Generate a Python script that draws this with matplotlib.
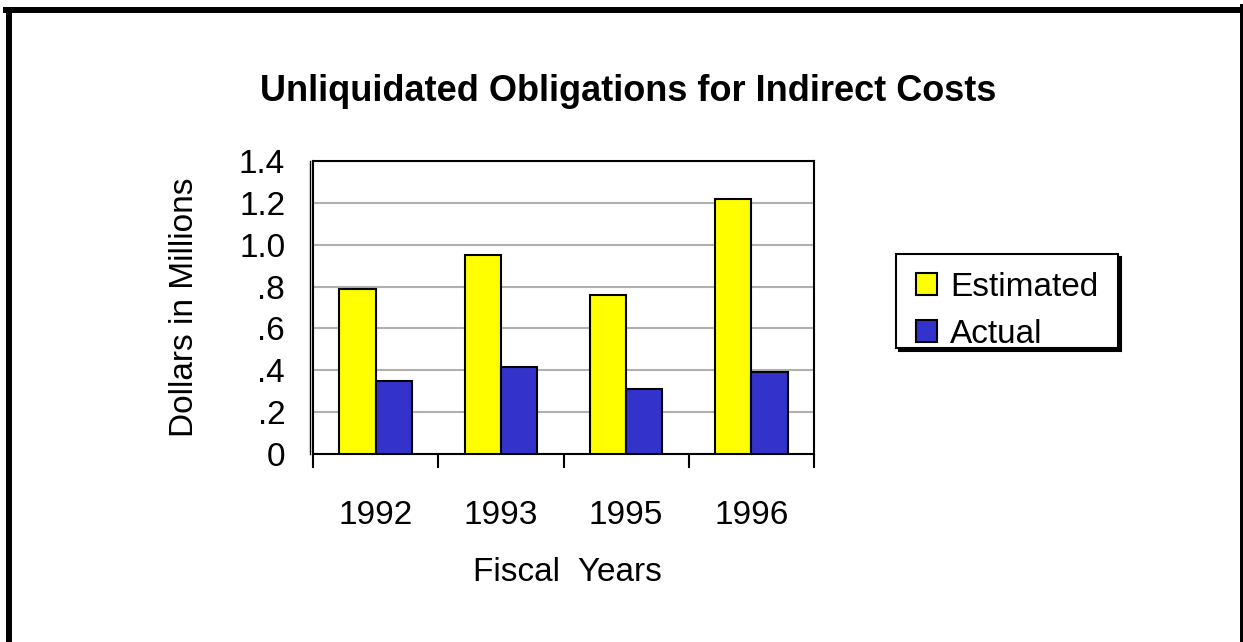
import matplotlib
matplotlib.use("Agg")
import numpy as np
import matplotlib.pyplot as plt
from matplotlib.lines import Line2D
from matplotlib.patches import Rectangle
from matplotlib.transforms import offset_copy

years = ["1992", "1993", "1995", "1996"]
estimated = [0.79, 0.95, 0.76, 1.22]
actual = [0.35, 0.415, 0.31, 0.39]
ytick_vals = [0, 0.2, 0.4, 0.6, 0.8, 1.0, 1.2, 1.4]
ytick_labels = ["0", ".2", ".4", ".6", ".8", "1.0", "1.2", "1.4"]

plt.rcParams['font.family'] = ['Liberation Sans', 'DejaVu Sans']

W, H = 1243, 642
fig = plt.figure(figsize=(W / 100, H / 100), dpi=100)
ax = fig.add_axes([0.2518, 0.2928, 0.4031, 0.4564])

x = np.arange(len(years))
w = 0.29
ax.bar(x - w / 2, estimated, w, color='#FFFF00', edgecolor='black',
       linewidth=1.5, label='Estimated', zorder=3)
ax.bar(x + w / 2, actual, w, color='#3333CC', edgecolor='black',
       linewidth=1.5, label='Actual', zorder=3)

ax.set_xlim(-0.5, len(years) - 0.5)
ax.set_ylim(0, 1.4)
ax.set_yticks(ytick_vals)
ax.set_yticklabels(ytick_labels, fontsize=24)
ax.tick_params(axis='y', length=0, pad=20)
ax.yaxis.grid(True, color='#b0b0b0', linewidth=1.5, zorder=0)
ax.set_axisbelow(True)

# boundary ticks, labels at centres
ax.set_xticks(np.arange(-0.5, len(years)))
ax.set_xticklabels([])
ax.tick_params(axis='x', which='major', direction='out', length=10, width=1.5)
ax.set_xticks(x, minor=True)
ax.set_xticklabels(years, minor=True, fontsize=24)
ax.tick_params(axis='x', which='minor', length=0, pad=33)

for s in ax.spines.values():
    s.set_linewidth(1.5)

# double line on the left axis
ax.add_line(Line2D([0, 0], [0, 1], color='black', linewidth=1.0,
                   transform=offset_copy(ax.transAxes, fig=fig, x=-3, y=0, units='dots'),
                   clip_on=False))

ax.set_xlabel("Fiscal  Years", fontsize=24, labelpad=19)
ax.xaxis.label.set_x(0.508)
ax.set_ylabel("Dollars in Millions", fontsize=24, labelpad=28)

fig.text(0.505, 0.858, "Unliquidated Obligations for Indirect Costs",
         fontsize=26, fontweight='bold', ha='center', va='center')

# legend box with shadow, drawn by hand
fx0, fy0, fx1, fy1 = 896, 254, 1118, 348
fig.add_artist(Rectangle(((fx0 + 3) / W, 1 - (fy1 + 3) / H), (fx1 - fx0) / W, (fy1 - fy0) / H,
                         transform=fig.transFigure, facecolor='black', edgecolor='black',
                         linewidth=1.5, zorder=1))
fig.add_artist(Rectangle((fx0 / W, 1 - fy1 / H), (fx1 - fx0) / W, (fy1 - fy0) / H,
                         transform=fig.transFigure, facecolor='white', edgecolor='black',
                         linewidth=1.5, zorder=2))

handles, labels = ax.get_legend_handles_labels()
leg = fig.legend(handles, labels, loc='upper left', bbox_to_anchor=(916 / W, 1 - 272 / H),
                 fontsize=24, frameon=False,
                 handlelength=0.63, handleheight=0.63, handletextpad=0.4,
                 borderpad=0, labelspacing=0.48, borderaxespad=0)
leg.set_zorder(5)

# page border
fig.add_artist(Line2D([9 / W, 9 / W], [-0.1, 1 - 10 / H], color='black',
                      linewidth=4.3, transform=fig.transFigure))
fig.add_artist(Line2D([6 / W, 1.01], [1 - 10 / H, 1 - 10 / H], color='black',
                      linewidth=4.3, transform=fig.transFigure))
fig.add_artist(Line2D([1.0, 1.0], [-0.1, 1 - 7 / H], color='black',
                      linewidth=4.3, transform=fig.transFigure))

fig.savefig('out.png', dpi=100)
